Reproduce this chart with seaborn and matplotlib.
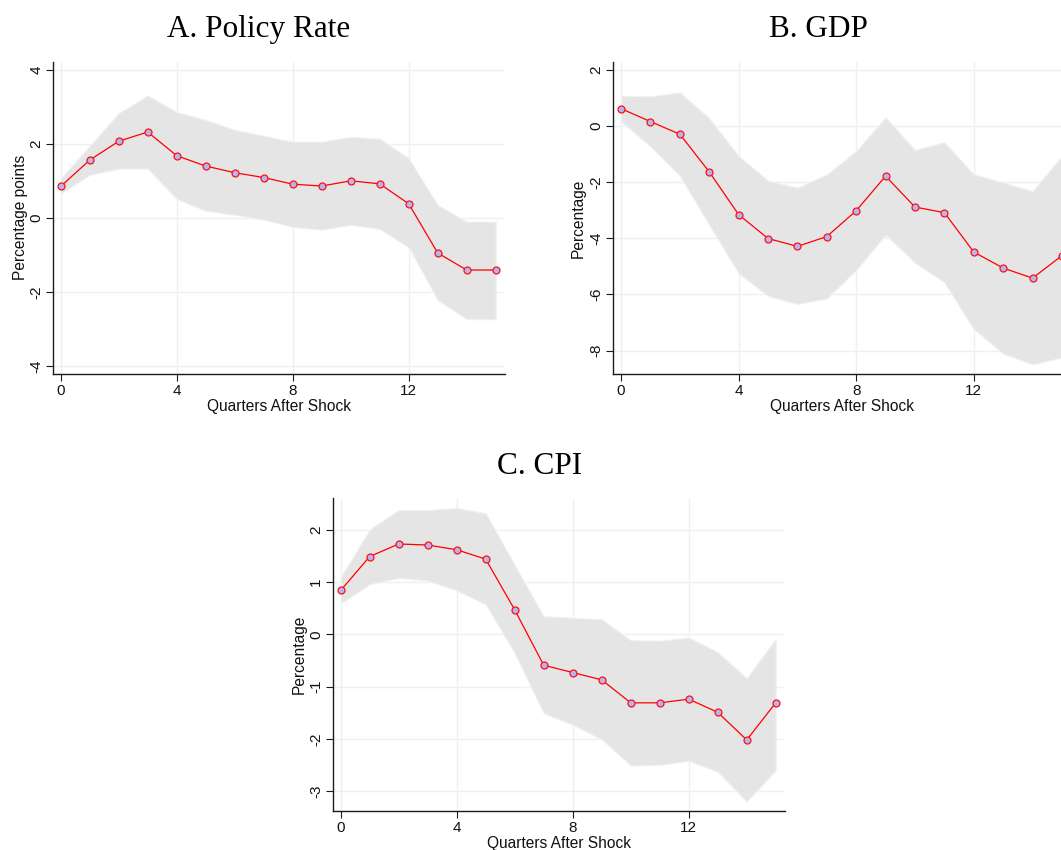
import numpy as np
import pandas as pd
import matplotlib
matplotlib.use("Agg")
import matplotlib.pyplot as plt
import seaborn as sns

# Impulse responses: horizon in quarters, point estimate and confidence band
quarters = list(range(16))

rate_irf = [0.85, 1.56, 2.07, 2.32, 1.68, 1.40, 1.22, 1.09, 0.91, 0.86, 1.00, 0.92, 0.38, -0.95, -1.41, -1.41]
rate_hi = [1.07, 1.95, 2.83, 3.31, 2.86, 2.65, 2.38, 2.22, 2.06, 2.06, 2.19, 2.14, 1.61, 0.35, -0.10, -0.10]
rate_lo = [0.65, 1.16, 1.33, 1.33, 0.51, 0.19, 0.08, -0.05, -0.25, -0.32, -0.19, -0.30, -0.80, -2.22, -2.74, -2.74]

gdp_irf = [0.61, 0.15, -0.30, -1.64, -3.16, -4.01, -4.29, -3.94, -3.02, -1.79, -2.89, -3.09, -4.49, -5.06, -5.42, -4.62]
gdp_hi = [1.07, 1.05, 1.19, 0.27, -1.07, -1.95, -2.20, -1.73, -0.89, 0.30, -0.86, -0.58, -1.72, -2.02, -2.32, -1.07]
gdp_lo = [0.15, -0.74, -1.78, -3.53, -5.25, -6.06, -6.34, -6.14, -5.13, -3.88, -4.87, -5.57, -7.24, -8.10, -8.49, -8.24]

cpi_irf = [0.84, 1.49, 1.73, 1.71, 1.62, 1.44, 0.47, -0.59, -0.73, -0.87, -1.31, -1.31, -1.24, -1.49, -2.02, -1.31]
cpi_hi = [1.10, 2.01, 2.38, 2.38, 2.42, 2.32, 1.33, 0.35, 0.32, 0.29, -0.11, -0.12, -0.06, -0.34, -0.84, -0.08]
cpi_lo = [0.59, 0.96, 1.08, 1.03, 0.84, 0.57, -0.36, -1.51, -1.73, -2.01, -2.51, -2.50, -2.42, -2.63, -3.20, -2.60]

x_ticks = [0, 4, 8, 12]
rate_yticks = [-4, -2, 0, 2, 4]
gdp_yticks = [-8, -6, -4, -2, 0, 2]
cpi_yticks = [-3, -2, -1, 0, 1, 2]

sns.set_theme(style="white")
plt.rcParams["font.family"] = ["Liberation Sans", "DejaVu Sans"]

W, H = 1061, 850
fig = plt.figure(figsize=(W / 100, H / 100), dpi=100)


def px_axes(left, top, right, bottom):
    return fig.add_axes([left / W, 1 - bottom / H, (right - left) / W, (bottom - top) / H])


def panel(ax, irf, lo, hi, yticks, ylim, ylabel, ylabelpad=3):
    df = pd.DataFrame({"q": quarters, "irf": irf, "lo": lo, "hi": hi})
    ax.fill_between(df["q"], df["lo"], df["hi"], color="#e5e5e5", linewidth=0.8,
                    edgecolor="#f2f2f2", zorder=1)
    sns.lineplot(data=df, x="q", y="irf", ax=ax, color="#ff0000", linewidth=0.9,
                 marker="o", markersize=5, markerfacecolor="#b4b4f5",
                 markeredgecolor="#ff1010", markeredgewidth=0.9, zorder=3)
    ax.set_xlim(-0.265, 15.32)
    ax.set_ylim(*ylim)
    ax.set_xticks(x_ticks)
    ax.set_yticks(yticks)
    ax.set_yticklabels([str(t) for t in yticks], rotation=90, va="center")
    ax.grid(True, color="#eaf2f3", linewidth=1.0, zorder=0)
    ax.set_axisbelow(True)
    for side in ("top", "right"):
        ax.spines[side].set_visible(False)
    for side in ("left", "bottom"):
        ax.spines[side].set_color("#1a1a1a")
        ax.spines[side].set_linewidth(1.0)
    ax.tick_params(axis="both", direction="out", length=5, width=0.8, color="#1a1a1a",
                   labelsize=11, labelcolor="#111111", pad=2, left=True, bottom=True)
    ax.set_xlabel("Quarters After Shock", fontsize=11.2, color="#111111", labelpad=1)
    ax.set_ylabel(ylabel, fontsize=11.2, color="#111111", labelpad=ylabelpad)


ax_a = px_axes(53, 61.7, 505, 374)
panel(ax_a, rate_irf, rate_lo, rate_hi, rate_yticks, (-4.22, 4.22), "Percentage points",
      ylabelpad=1)

ax_b = px_axes(613.3, 61.7, 622 + 15.32 * 29.33, 374)
panel(ax_b, gdp_irf, gdp_lo, gdp_hi, gdp_yticks, (-8.83, 2.28), "Percentage")

ax_c = px_axes(333, 498, 785, 811)
panel(ax_c, cpi_irf, cpi_lo, cpi_hi, cpi_yticks, (-3.38, 2.61), "Percentage", ylabelpad=2)

title_font = dict(family=["Liberation Serif", "DejaVu Serif"], fontsize=22.5, color="#000000",
                  ha="center", va="baseline")
fig.text(259 / W, 1 - 37 / H, "A. Policy Rate", **title_font)
fig.text(818 / W, 1 - 37.3 / H, "B. GDP", **title_font)
fig.text(540 / W, 1 - 474.3 / H, "C. CPI", **title_font)

fig.savefig("out.png", dpi=100, facecolor="white")
